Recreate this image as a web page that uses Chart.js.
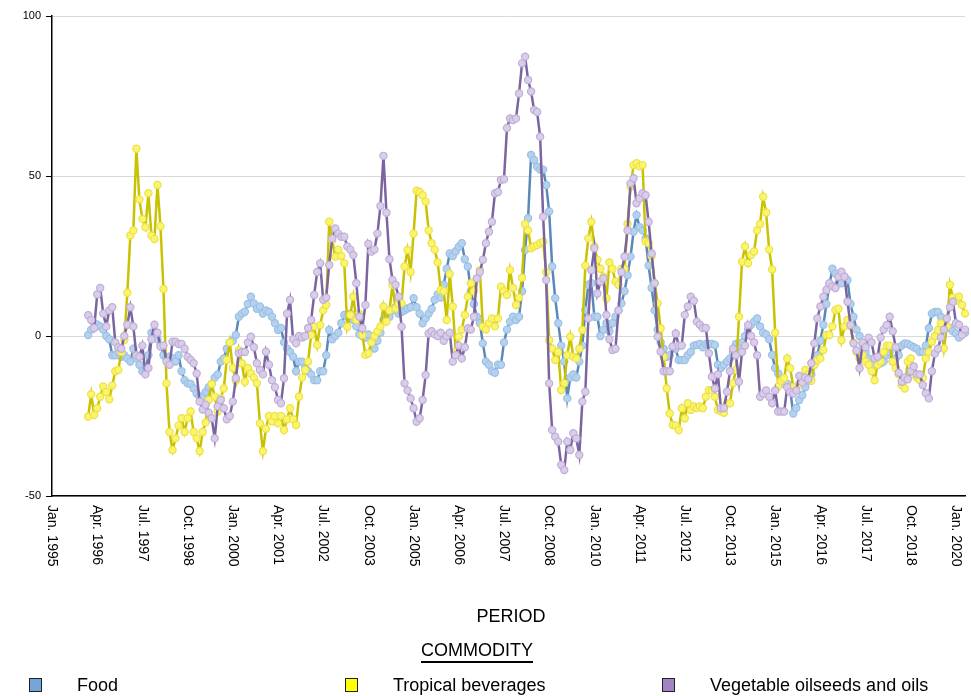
<!DOCTYPE html>
<html>
<head>
<meta charset="utf-8">
<script src="https://cdn.jsdelivr.net/npm/chart.js@4.4.1/dist/chart.umd.min.js"></script>
<style>
  html, body { margin: 0; padding: 0; background: #fff; }
  #wrap { position: relative; width: 971px; height: 696px; font-family: "Liberation Sans", Arial, sans-serif; }
  canvas { position: absolute; left: 0; top: 0; }
  .title { position: absolute; font-size: 18px; line-height: 20px; color: #000; transform: translateX(-50%); white-space: nowrap; }
  .underlined { border-bottom: 2px solid #000; padding-bottom: 1px; }
  .legend-item { position: absolute; top: 675px; font-size: 18px; line-height: 20px; color: #000; white-space: nowrap; }
  .legend-item .box { position: absolute; left: 0; top: 3px; width: 11px; height: 12px; border: 1.5px solid #222; }
  .legend-item .txt { position: absolute; left: 48px; top: 0; }
</style>
</head>
<body>
<div id="wrap">
  <canvas id="chart" width="971" height="696"></canvas>
  <div class="title" style="left:511px; top:606px;">PERIOD</div>
  <div class="title underlined" style="left:477px; top:640px;">COMMODITY</div>
  <div class="legend-item" style="left:29px;"><div class="box" style="background:#74a6d8;"></div><span class="txt">Food</span></div>
  <div class="legend-item" style="left:345px;"><div class="box" style="background:#ffff00;"></div><span class="txt">Tropical beverages</span></div>
  <div class="legend-item" style="left:662px;"><div class="box" style="background:#a184c4;"></div><span class="txt">Vegetable oilseeds and oils</span></div>
</div>
<script>
// Monthly periods, Jan. 1995 to Apr. 2020
const monthNames = ["Jan.", "Feb.", "Mar.", "Apr.", "May", "Jun.", "Jul.", "Aug.", "Sep.", "Oct.", "Nov.", "Dec."];
const firstYear = 1995;
const periodCount = 304;
const periods = [];
for (let i = 0; i < periodCount; i++) {
  periods.push(monthNames[i % 12] + " " + (firstYear + Math.floor(i / 12)));
}
// Labelled periods on the axis (every 15 months)
const tickStep = 15;

// 1995 has no observations
const noData1995 = [null, null, null, null, null, null, null, null, null, null, null, null];

// Food
const food = noData1995.concat([
  0.3, 2, 4, 3.5, 3, 2, 0, -1, -6, -6, -5, -6.5,                 // 1996
  -6, -7, -8, -4, -7, -9, -11, -11, -6, 1, 1, -1,                 // 1997
  -3, -6, -7, -6.5, -7, -8, -6, -11, -13.8, -14.8, -15, -16.4,    // 1998
  -18, -19, -19, -17.5, -16, -15, -13, -12, -8, -7, -4, -2,       // 1999
  -1.5, 0.3, 6, 7, 7.6, 10, 12.3, 10.2, 8.5, 9.2, 7, 8,           // 2000
  7.5, 6, 4, 1.9, 2.5, -2, -4, -5, -6.5, -11, -8, -8,             // 2001
  -10, -11, -12, -13.8, -13.8, -11, -11, -6, 1.9, -1, 0, 1,       // 2002
  4, 6.6, 6, 7, 5, 3, 0.5, 0, -0.5, 0.5, -1.5, -3.9,              // 2003
  -1.5, 1, 5, 6.5, 6, 8, 9, 7, 7.5, 8, 8.6, 9,                    // 2004
  11.8, 9, 7, 4, 5.5, 7, 8.5, 11.3, 13, 12, 16, 21,               // 2005
  25.8, 25, 26.5, 27.9, 29, 24, 21.7, 14, 10, 6, 4, -2.3,         // 2006
  -8, -9, -11, -11.5, -9, -9, -2, 2, 4.5, 6, 5, 6,                // 2007
  14, 26.9, 36.8, 56.6, 55, 52.9, 52, 52, 47.2, 38.9, 21.7, 11.8, // 2008
  4, -3, -8, -19.5, -13, -12, -13, -8, -3, 8.1, 16, 16.5,         // 2009
  6, 6, 0, 2, 4, 1.5, 4, 6, 8, 10.2, 14, 19,                      // 2010
  24.8, 32.6, 37.8, 34, 33, 30.5, 22, 15, 8, 2, -2, -4,           // 2011
  -6.5, -6, -3.5, -4, -7.5, -7.5, -7.5, -6, -5, -3, -2.8, -2.5,   // 2012
  -3.5, -2.5, -2.5, -2.5, -2.8, -9, -10, -9, -8, -7, -5, -2.5,    // 2013
  -3.5, -2, 0, 2, 3.5, 4.5, 5.5, 3, 1, 0.5, -1, -5.9,             // 2014
  -10, -11.7, -14, -15, -15, -17, -24.2, -22.5, -20, -18.5, -16, -14, // 2015
  -12, -9, -6, -1.5, 3.5, 10, 16, 21, 19.5, 16.5, 16.5, 18.5,     // 2016
  17.5, 10, 6, 2, 0, -2.5, -5, -7, -10, -8, -9, -8.5,             // 2017
  -8, -6, -5, -8, -7, -6, -3, -2.3, -2.5, -3, -3.5, -4,           // 2018
  -5, -5, -3, 2.4, 7, 7.5, 7.5, 6, 4, 3, 2.5, 1.5,                // 2019
  0.8, -0.5, 1, 1                                                 // 2020
]);

// Tropical beverages
const tropicalBeverages = noData1995.concat([
  -25.2, -18.2, -24.7, -22.6, -19, -15.8, -17.5, -19.8, -15.5, -11, -10.6, -5, // 1996
  -1.2, 13.5, 31.4, 33, 58.5, 42.7, 36.6, 34, 44.6, 31.4, 30.3, 47.2,          // 1997
  34.3, 14.7, -14.8, -30, -35.6, -32, -28, -25.7, -30, -25.7, -23.6, -30,      // 1998
  -32, -36, -30, -27, -20, -15, -19, -23.6, -19.5, -16.4, -7.5, -2,            // 1999
  -10, -14, -4.4, -8.5, -14.3, -10, -11.7, -13, -14.8, -27.3, -36, -29,        // 2000
  -25, -26.7, -25, -27.3, -25, -29.4, -26, -22.6, -26, -27.8, -19, -13,        // 2001
  -10.6, -8, 0.3, 3, -2.8, 3.4, 8, 9.7, 35.7, 30, 24.8, 27,                    // 2002
  25, 22.7, 2.9, 6.6, 12.3, 5, 7, 0.3, -5.9, -5.4, -2, 0,                      // 2003
  1.4, 3, 9.2, 4.5, 8, 16, 8.6, 10, 10.2, 21.7, 26.9, 20,                      // 2004
  32, 45.4, 45, 44, 42, 33, 29, 27, 23, 14.4, 14, 5,                           // 2005
  19.4, 9.2, -5, -0.2, 2, 6.6, 12.3, 16.5, 14, 18, 20.6, 2.9,                  // 2006
  2, 4, 5.5, 3, 5.5, 15.4, 14, 12.8, 20.6, 15, 9.7, 12,                        // 2007
  18.2, 35, 33, 27.4, 28, 28.4, 29, 29.5, 20, -1.3, -3.9, -7.5,                // 2008
  -5, -16.9, -14.8, -6, -0.2, -6.5, -7, -4, 1.9, 22, 30.5, 35.7,               // 2009
  28, 23.8, 21, 18.5, 11.8, 23, 21, 17, 16, 21, 21, 35,                        // 2010
  46.7, 53.4, 54, 53, 53.4, 29.5, 29, 25, 16.5, 10.2, 2.4, -6.5,               // 2011
  -16.4, -24.2, -27.8, -28, -29.4, -22.6, -25.7, -21, -23.1, -22, -22.5, -22,  // 2012
  -22.6, -19, -16.9, -17, -19, -23.1, -23.5, -24, -21, -21, -14.8, -10.6,      // 2013
  6, 23.2, 28, 22.7, 25.3, 26.4, 33, 35, 43.5, 38.6, 27, 20.8,                 // 2014
  1, -15.8, -14, -13.2, -7, -10.1, -16, -17, -15, -13, -10.6, -12,             // 2015
  -14, -9, -7.5, -7, -4.4, 0.3, 0.3, 3, 8.1, 8.5, -1.3, 3,                     // 2016
  5, 3, -2, -5, -7, -6, -8, -9, -11, -13.8, -9, -8,                            // 2017
  -5, -3, -3, -8, -10, -12, -15.3, -16.4, -8, -7, -12, -13,                    // 2018
  -13.8, -13, -7, -5, -1.8, 0, 1.9, 4, -3.9, 3, 16, 12,                        // 2019
  11, 12.3, 9.7, 7                                                             // 2020
]);

// Vegetable oilseeds and oils
const vegetableOils = noData1995.concat([
  6.5, 5, 2.5, 13, 15, 7, 3, 8, 9, -2, -3.5, -4,                       // 1996
  0, 3.5, 9, 3, -6, -6.5, -3, -12, -10, -1, 3.5, 1,                    // 1997
  -3.3, -3, -8, -9, -1.8, -1.8, -2.5, -2.5, -4, -6.5, -7.5, -8.5,      // 1998
  -11.7, -20.5, -23, -21.5, -24, -25.7, -32, -22, -20, -22.6, -26, -25, // 1999
  -20.5, -13.2, -5.4, -5, -5, -2, -0.2, -3.5, -8.5, -10.6, -12, -4.9,  // 2000
  -9, -13.8, -16, -20, -21, -13.2, 7, 11.3, -1, -2.3, 0, -0.5,         // 2001
  0, 2.5, 5, 12.8, 20, 22.7, 11.3, 12, 22.2, 30.5, 33.6, 32,           // 2002
  31, 31, 28, 27, 25.3, 16.5, 6, 2.4, 9.7, 28.8, 26.4, 27,             // 2003
  32, 40.6, 56.3, 38.5, 24, 17.5, 16, 12.3, 2.9, -14.8, -17, -19.5,    // 2004
  -22.6, -26.8, -25.7, -20, -12.2, 0.8, 1.5, 0.5, 0, 1, -1.5, 0,       // 2005
  1, -8, -6, -3, -7, -3.5, 2.4, 2, 6, 18, 20, 23.8,                    // 2006
  29, 32.6, 35.7, 44.6, 45, 48.8, 49, 65, 68, 67.5, 68, 75.8,          // 2007
  85.2, 87.3, 80, 76.4, 70.6, 70, 62.3, 37.3, 17.5, -14.8, -29.4, -31.5, // 2008
  -33, -40.3, -41.9, -33, -35.6, -30.4, -32, -37.2, -20.5, -17.4, 5.5, 20.6, // 2009
  27.4, 13.3, 17, 18, 6.6, -1, -4.4, -4, 8, 20, 24.8, 33,              // 2010
  47.7, 49.3, 41.5, 43, 44.6, 44, 35.7, 25.8, 16.5, -0.2, -4.9, -11,   // 2011
  -11, -11, -3.3, 0.8, -3, -3, 6.6, 9.2, 12.3, 11, 4.5, 3.5,           // 2012
  2.5, 2.5, -5.4, -12.7, -16.4, -12, -22.6, -22.5, -17.4, -11, -4, -6, // 2013
  -14.3, -5, -3, 3.4, 0, -2, -6, -19, -18, -17, -19, -21,              // 2014
  -17, -23.6, -23.6, -23.6, -16, -17.5, -18, -17, -12.5, -14.5, -13, -13.5, // 2015
  -8.5, -2.3, 5.5, 9.2, 12.3, 14.4, 16.5, 15.5, 15, 18.5, 20.1, 18.5,  // 2016
  10.7, 3.4, -2.3, -4.5, -10.1, -2, -3.5, -0.5, -2, -7, -6.5, -0.5,    // 2017
  2, 3.4, 6, 1.5, -3.5, -11.5, -14.3, -13, -13.5, -11, -9.5, -12,      // 2018
  -12, -15.3, -17.9, -19.5, -11, -5.5, -4, -0.5, 2, 5.5, 9, 10.7,      // 2019
  4, 3.5, 0.3, 2                                                       // 2020
]);

// Y axis range and labelled values
const yMin = -50, yMax = 100, yStep = 50;

const seriesStyle = (line, fill, edge, order) => ({
  borderColor: line,
  borderWidth: 2.5,
  pointRadius: 3.6,
  pointBorderWidth: 1.2,
  pointBackgroundColor: fill,
  pointBorderColor: edge,
  pointHoverRadius: 3.6,
  tension: 0,
  spanGaps: false,
  order: order
});

// Rotated period labels, reading downwards under the axis
const periodLabels = {
  id: 'periodLabels',
  afterDraw(chart) {
    const ctx = chart.ctx;
    const xs = chart.scales.x;
    const top = chart.chartArea.bottom + 9;
    ctx.save();
    ctx.fillStyle = '#000';
    ctx.font = '14px "Liberation Sans", Arial, sans-serif';
    ctx.textAlign = 'left';
    ctx.textBaseline = 'middle';
    for (let i = 0; i < periods.length; i += tickStep) {
      const x = xs.getPixelForValue(i);
      ctx.save();
      ctx.translate(x, top);
      ctx.rotate(Math.PI / 2);
      ctx.fillText(periods[i], 0, 0);
      ctx.restore();
    }
    ctx.restore();
  }
};

new Chart(document.getElementById('chart'), {
  type: 'line',
  data: {
    labels: periods,
    datasets: [
      Object.assign({ label: 'Food', data: food }, seriesStyle('#5a89b9', '#b4d2ef', '#9cc0e4', 3)),
      Object.assign({ label: 'Tropical beverages', data: tropicalBeverages }, seriesStyle('#c9c200', '#fbf56a', '#ece04a', 2)),
      Object.assign({ label: 'Vegetable oilseeds and oils', data: vegetableOils }, seriesStyle('#7a65a1', '#d9cde9', '#bfaed7', 1))
    ]
  },
  options: {
    responsive: false,
    animation: false,
    events: [],
    layout: { padding: { top: 16, right: 6, left: 0, bottom: 0 } },
    scales: {
      x: {
        type: 'category',
        offset: false,
        grid: { display: false },
        border: { color: '#000', width: 1.5 },
        ticks: { display: false },
        afterFit(scale) { scale.height = 200; }
      },
      y: {
        min: yMin,
        max: yMax,
        ticks: {
          stepSize: yStep,
          color: '#000',
          font: { family: '"Liberation Sans", Arial, sans-serif', size: 11 },
          padding: 5
        },
        grid: { color: '#d9d9d9', lineWidth: 1, tickColor: '#000', tickLength: 6 },
        border: { color: '#000', width: 1.5 },
        afterFit(scale) { scale.width = 52; }
      }
    },
    plugins: {
      legend: { display: false },
      tooltip: { enabled: false }
    }
  },
  plugins: [periodLabels]
});
</script>
</body>
</html>
